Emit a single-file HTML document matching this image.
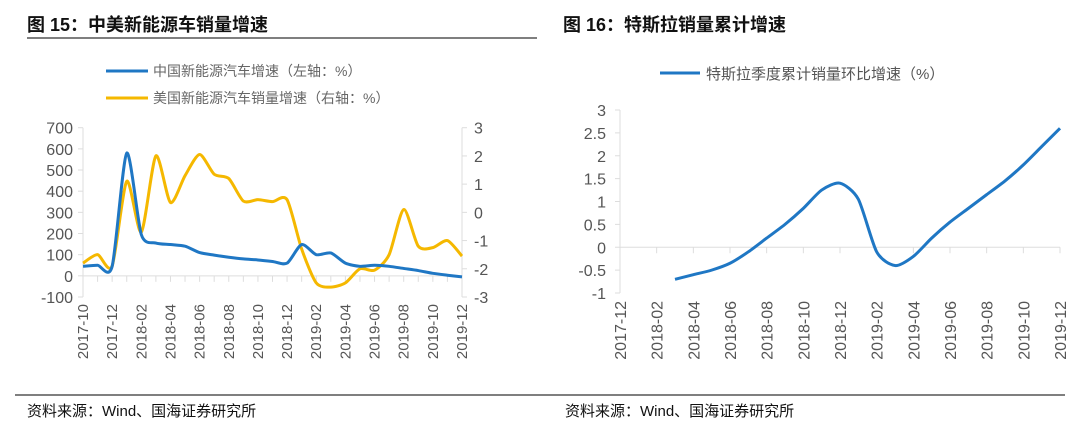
<!DOCTYPE html>
<html><head><meta charset="utf-8">
<style>
body{margin:0;background:#fff;width:1080px;height:431px;overflow:hidden;font-family:"Liberation Sans","Noto Sans CJK SC",sans-serif;}
svg text{font-family:"Liberation Sans","Noto Sans CJK SC",sans-serif;}
</style></head><body>
<svg id="c" width="1080" height="431" xmlns="http://www.w3.org/2000/svg">
<text x="27" y="31" font-size="18" font-weight="bold" fill="#111">图 15：中美新能源车销量增速</text>
<line x1="27" y1="38" x2="537" y2="38" stroke="#555" stroke-width="1.5"/>
<text x="563" y="31" font-size="18" font-weight="bold" fill="#111">图 16：特斯拉销量累计增速</text>
<line x1="15" y1="395" x2="1065" y2="395" stroke="#555" stroke-width="1.5"/>
<text x="27" y="416" font-size="15" fill="#111">资料来源：Wind、国海证券研究所</text>
<text x="565" y="416" font-size="15" fill="#111">资料来源：Wind、国海证券研究所</text>
<line x1="106" y1="71" x2="148" y2="71" stroke="#1f77c4" stroke-width="3"/>
<text x="153" y="76" font-size="14" fill="#666">中国新能源汽车增速（左轴：%）</text>
<line x1="106" y1="98" x2="148" y2="98" stroke="#f5b800" stroke-width="3"/>
<text x="153" y="103" font-size="14" fill="#666">美国新能源汽车销量增速（右轴：%）</text>
<line x1="660" y1="73" x2="700" y2="73" stroke="#1f77c4" stroke-width="3"/>
<text x="706" y="79" font-size="15" fill="#555">特斯拉季度累计销量环比增速（%）</text>
<g id="left"></g><g id="right"></g>
</svg>
<script>
const leftCats=["2017-10","2017-11","2017-12","2018-01","2018-02","2018-03","2018-04","2018-05","2018-06","2018-07","2018-08","2018-09","2018-10","2018-11","2018-12","2019-01","2019-02","2019-03","2019-04","2019-05","2019-06","2019-07","2019-08","2019-09","2019-10","2019-11","2019-12"];
const chinaVals=[45,50,45,580,195,155,148,140,110,98,88,80,75,68,60,148,100,108,60,45,50,45,35,25,12,3,-5];
const usVals=[-1.8,-1.5,-1.9,1.1,-0.7,2.0,0.35,1.3,2.05,1.35,1.2,0.4,0.45,0.38,0.45,-1.3,-2.5,-2.65,-2.5,-2.0,-2.05,-1.5,0.1,-1.2,-1.25,-1.0,-1.55];
const leftTicks=[-100,0,100,200,300,400,500,600,700];
const rightTicksL=[-3,-2,-1,0,1,2,3];
const rightCats=["2017-12","2018-01","2018-02","2018-03","2018-04","2018-05","2018-06","2018-07","2018-08","2018-09","2018-10","2018-11","2018-12","2019-01","2019-02","2019-03","2019-04","2019-05","2019-06","2019-07","2019-08","2019-09","2019-10","2019-11","2019-12"];
const teslaVals=[null,null,null,-0.7,-0.6,-0.5,-0.35,-0.1,0.2,0.5,0.85,1.25,1.4,1.05,-0.1,-0.4,-0.2,0.2,0.55,0.85,1.15,1.45,1.8,2.2,2.6];
const teslaTicks=[-1,-0.5,0,0.5,1,1.5,2,2.5,3];

const NS="http://www.w3.org/2000/svg";
function mk(p,tag,a){const e=document.createElementNS(NS,tag);for(const k in a)e.setAttribute(k,a[k]);p.appendChild(e);return e;}
function smooth(pts){let d="M"+pts[0][0]+","+pts[0][1];for(let i=0;i<pts.length-1;i++){const p0=pts[i-1]||pts[i],p1=pts[i],p2=pts[i+1],p3=pts[i+2]||p2;const t=8;d+=" C"+(p1[0]+(p2[0]-p0[0])/t)+","+(p1[1]+(p2[1]-p0[1])/t)+" "+(p2[0]-(p3[0]-p1[0])/t)+","+(p2[1]-(p3[1]-p1[1])/t)+" "+p2[0]+","+p2[1];}return d;}

// left chart
const L=document.getElementById('left');
const lx0=83,lx1=462,ly0=297,ly1=127.7;
const lx=i=>lx0+i*(lx1-lx0)/(leftCats.length-1);
const ly=v=>ly0-(v+100)/800*(ly0-ly1);
const ry=v=>ly0-(v+3)/6*(ly0-ly1);
let e=mk(L,'line',{x1:lx0,y1:ly1,x2:lx0,y2:ly0,stroke:'#ddd'});

e=mk(L,'line',{x1:lx1,y1:ly1,x2:lx1,y2:ly0,stroke:'#ddd'});

e=mk(L,'line',{x1:lx0,y1:ly(0),x2:lx1,y2:ly(0),stroke:'#ddd'});

leftTicks.forEach(v=>{const t=mk(L,'text',{x:73,y:ly(v)+6,'font-size':16,fill:'#555','text-anchor':'end'});t.textContent=v;

mk(L,'line',{x1:lx0-5,y1:ly(v),x2:lx0,y2:ly(v),stroke:'#ddd'});});
rightTicksL.forEach(v=>{const t=mk(L,'text',{x:474,y:ry(v)+6,'font-size':16,fill:'#555'});t.textContent=v;

mk(L,'line',{x1:lx1,y1:ry(v),x2:lx1+5,y2:ry(v),stroke:'#ddd'});});
leftCats.forEach((c,i)=>{mk(L,'line',{x1:lx(i),y1:ly(0),x2:lx(i),y2:ly(0)+6,stroke:'#ddd'});
if(i%2==0){const t=mk(L,'text',{x:0,y:0,'font-size':15,fill:'#555','text-anchor':'end',transform:`translate(${lx(i)+5},${ly0+7}) rotate(-90)`});t.textContent=c;
}});
e=mk(L,'path',{d:smooth(usVals.map((v,i)=>[lx(i),ry(v)])),fill:'none',stroke:'#f5b800','stroke-width':3});

e=mk(L,'path',{d:smooth(chinaVals.map((v,i)=>[lx(i),ly(v)])),fill:'none',stroke:'#1f77c4','stroke-width':3});


// right chart
const R=document.getElementById('right');
const rx0=620,rx1=1060,ry0=293,ry1=110;
const rx=i=>rx0+i*(rx1-rx0)/(rightCats.length-1);
const rY=v=>ry0-(v+1)/4*(ry0-ry1);
e=mk(R,'line',{x1:rx0,y1:ry1,x2:rx0,y2:ry0,stroke:'#ddd'});

e=mk(R,'line',{x1:rx0,y1:rY(0),x2:rx1,y2:rY(0),stroke:'#ddd'});

teslaTicks.forEach(v=>{const t=mk(R,'text',{x:606,y:rY(v)+6,'font-size':16,fill:'#555','text-anchor':'end'});t.textContent=v;

mk(R,'line',{x1:rx0-5,y1:rY(v),x2:rx0,y2:rY(v),stroke:'#ddd'});});
rightCats.forEach((c,i)=>{if(i%2==0){mk(R,'line',{x1:rx(i),y1:rY(0),x2:rx(i),y2:rY(0)+6,stroke:'#ddd'});
const t=mk(R,'text',{x:0,y:0,'font-size':16,fill:'#555','text-anchor':'end',transform:`translate(${rx(i)+6},${ry0+8}) rotate(-90)`});t.textContent=c;
}});
const tp=[];teslaVals.forEach((v,i)=>{if(v!==null)tp.push([rx(i),rY(v)]);});
e=mk(R,'path',{d:smooth(tp),fill:'none',stroke:'#1f77c4','stroke-width':3});

</script>
</body></html>
